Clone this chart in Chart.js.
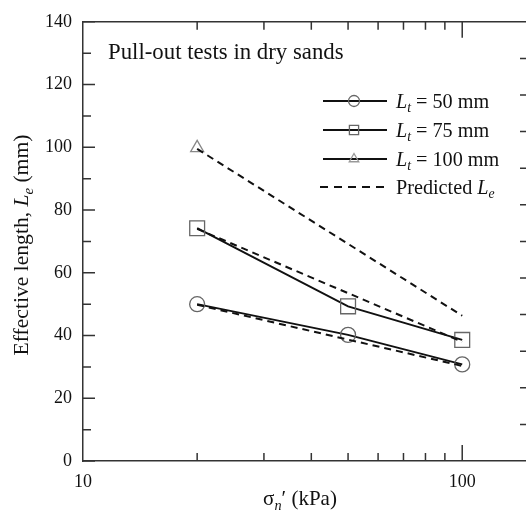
<!DOCTYPE html>
<html>
<head>
<meta charset="UTF-8" />
<title>Effective length vs normal stress</title>
<script src="https://cdn.jsdelivr.net/npm/chart.js@4.4.1/dist/chart.umd.min.js"></script>
<style>
  html, body { margin: 0; padding: 0; background: #fff; overflow: hidden; }
  #wrap { width: 545px; height: 522px; }
</style>
</head>
<body>
<div id="wrap"><canvas id="chart" width="545" height="522"></canvas></div>
<script>
// 資料：橫軸為正向應力 σn'（kPa，對數軸），縱軸為有效長度 Le（mm）
const stress = [20, 50, 100];
const le50 = [50, 40.2, 30.8];
const le75 = [74.2, 49.3, 38.6];
const stress100 = [20];
const le100 = [99.8];
const stressPred = [20, 100];
const pred50 = [49.8, 30.3];
const pred75 = [74, 38];
const pred100 = [99.5, 46.3];
const xTicks = [10, 20, 30, 40, 50, 60, 70, 80, 90, 100];
const xLabels = [10, 100];

const FONT = '"Liberation Serif", "Times New Roman", serif';
const ink = "#111";
const markerGray = "#666";

const pts = (xs, ys) => xs.map((x, i) => ({ x, y: ys[i] }));

// 富文字（斜體、下標）
function drawRich(ctx, parts, x, y, size) {
  let cx = x;
  parts.forEach((p) => {
    const s = p.sub ? size * 0.68 : size;
    ctx.font = (p.it ? "italic " : "") + s + "px " + FONT;
    ctx.fillText(p.t, cx, y + (p.sub ? size * 0.22 : 0));
    cx += ctx.measureText(p.t).width;
  });
  return cx - x;
}
function richWidth(ctx, parts, size) {
  let w = 0;
  parts.forEach((p) => {
    const s = p.sub ? size * 0.68 : size;
    ctx.font = (p.it ? "italic " : "") + s + "px " + FONT;
    w += ctx.measureText(p.t).width;
  });
  return w;
}

// 向內的刻度線 + 上方/右方框線
const framePlugin = {
  id: "frame",
  afterDraw(chart) {
    const { ctx, chartArea: a, scales } = chart;
    ctx.save();
    ctx.strokeStyle = "#333";
    ctx.lineWidth = 1.5;
    ctx.beginPath();
    ctx.moveTo(a.left, a.top); ctx.lineTo(a.right, a.top); ctx.lineTo(a.right, a.bottom);
    ctx.stroke();
    ctx.beginPath();
    for (let v = 0; v <= 140; v += 10) {
      const y = scales.y.getPixelForValue(v);
      const len = v % 20 === 0 ? 12 : 8;
      ctx.moveTo(a.left, y); ctx.lineTo(a.left + len, y);
    }
    scales.x.ticks.forEach((t) => {
      if (t.value === 10) return;
      const x = scales.x.getPixelForValue(t.value);
      const len = t.value === 100 ? 16 : 8;
      ctx.moveTo(x, a.bottom); ctx.lineTo(x, a.bottom - len);
      ctx.moveTo(x, a.top); ctx.lineTo(x, a.top + len);
    });
    for (let v = 10; v < 120; v += 10) {
      const y = scales.y2.getPixelForValue(v);
      ctx.moveTo(a.right, y); ctx.lineTo(a.right - 9, y);
    }
    ctx.stroke();
    ctx.restore();
  },
};

// 標題、註記與圖例
const textPlugin = {
  id: "texts",
  afterDraw(chart) {
    const { ctx } = chart;
    ctx.save();
    ctx.fillStyle = ink;
    ctx.textBaseline = "alphabetic";

    ctx.font = "22.8px " + FONT;
    ctx.fillText("Pull-out tests in dry sands", 108, 59);

    // y 軸標題
    const yTitle = [{ t: "Effective length, " }, { t: "L", it: true }, { t: "e", it: true, sub: true }, { t: " (mm)" }];
    ctx.save();
    ctx.translate(28, 245);
    ctx.rotate(-Math.PI / 2);
    drawRich(ctx, yTitle, -richWidth(ctx, yTitle, 21.6) / 2, 0, 21.6);
    ctx.restore();

    // x 軸標題
    const xTitle = [{ t: "σ" }, { t: "n", it: true, sub: true }, { t: "′ (kPa)" }];
    drawRich(ctx, xTitle, 300 - richWidth(ctx, xTitle, 21) / 2, 505, 21);

    // 圖例
    const rows = [
      { y: 101, style: "circle", r: 5.5, label: [{ t: "L", it: true }, { t: "t", it: true, sub: true }, { t: " = 50 mm" }] },
      { y: 130, style: "rect", r: 6.5, label: [{ t: "L", it: true }, { t: "t", it: true, sub: true }, { t: " = 75 mm" }] },
      { y: 159, style: "triangle", r: 5.5, label: [{ t: "L", it: true }, { t: "t", it: true, sub: true }, { t: " = 100 mm" }] },
      { y: 187, dash: true, label: [{ t: "Predicted " }, { t: "L", it: true }, { t: "e", it: true, sub: true }] },
    ];
    rows.forEach((row) => {
      ctx.save();
      ctx.strokeStyle = ink;
      ctx.lineWidth = 2;
      if (row.dash) ctx.setLineDash([8, 6]);
      ctx.beginPath();
      ctx.moveTo(row.dash ? 320 : 323, row.y);
      ctx.lineTo(387, row.y);
      ctx.stroke();
      ctx.setLineDash([]);
      if (row.style) {
        ctx.strokeStyle = row.style === "triangle" ? "#999" : markerGray;
        ctx.fillStyle = "rgba(0,0,0,0)";
        ctx.lineWidth = 1.3;
        Chart.helpers.drawPoint(ctx, { pointStyle: row.style, radius: row.r, borderWidth: 1.3, rotation: 0 }, 354, row.y);
      }
      ctx.restore();
      drawRich(ctx, row.label, 396, row.y + 7, 20.2);
    });
    ctx.restore();
  },
};

const solid = { borderColor: ink, borderWidth: 2, pointBorderColor: markerGray, pointBackgroundColor: "rgba(0,0,0,0)", pointBorderWidth: 1.3, tension: 0 };
const dashed = { borderColor: ink, borderWidth: 2, borderDash: [7, 5], pointRadius: 0, tension: 0 };

new Chart(document.getElementById("chart"), {
  type: "line",
  data: {
    datasets: [
      { label: "Predicted Le (100)", data: pts(stressPred, pred100), ...dashed },
      { label: "Predicted Le (75)", data: pts(stressPred, pred75), ...dashed },
      { label: "Predicted Le (50)", data: pts(stressPred, pred50), ...dashed },
      { label: "Lt = 50 mm", data: pts(stress, le50), ...solid, pointStyle: "circle", pointRadius: 7.5 },
      { label: "Lt = 75 mm", data: pts(stress, le75), ...solid, pointStyle: "rect", pointRadius: 10.5 },
      { label: "Lt = 100 mm", data: pts(stress100, le100), ...solid, pointStyle: "triangle", pointRadius: 7.5, pointBorderColor: "#888" },
    ],
  },
  options: {
    responsive: false,
    animation: false,
    layout: { padding: { top: 15, right: 16, left: 0, bottom: 0 } },
    plugins: { legend: { display: false }, tooltip: { enabled: false } },
    scales: {
      x: {
        type: "logarithmic",
        min: 10,
        max: 150,
        afterBuildTicks: (s) => { s.ticks = xTicks.map((v) => ({ value: v })); },
        afterFit: (s) => { s.height = 61; },
        ticks: {
          autoSkip: false, maxRotation: 0, padding: 10, color: ink,
          font: { family: FONT, size: 18 },
          callback: (v) => (xLabels.includes(v) ? String(v) : ""),
        },
        grid: { display: false, drawTicks: false },
        border: { display: true, color: "#333", width: 1.5 },
      },
      y: {
        min: 0,
        max: 140,
        afterFit: (s) => { s.width = 83; },
        ticks: { stepSize: 20, padding: 11, color: ink, font: { family: FONT, size: 18 } },
        grid: { display: false, drawTicks: false },
        border: { display: true, color: "#333", width: 1.5 },
      },
      y2: { position: "right", display: false, min: 0, max: 120 },
    },
  },
  plugins: [framePlugin, textPlugin],
});
</script>
</body>
</html>
